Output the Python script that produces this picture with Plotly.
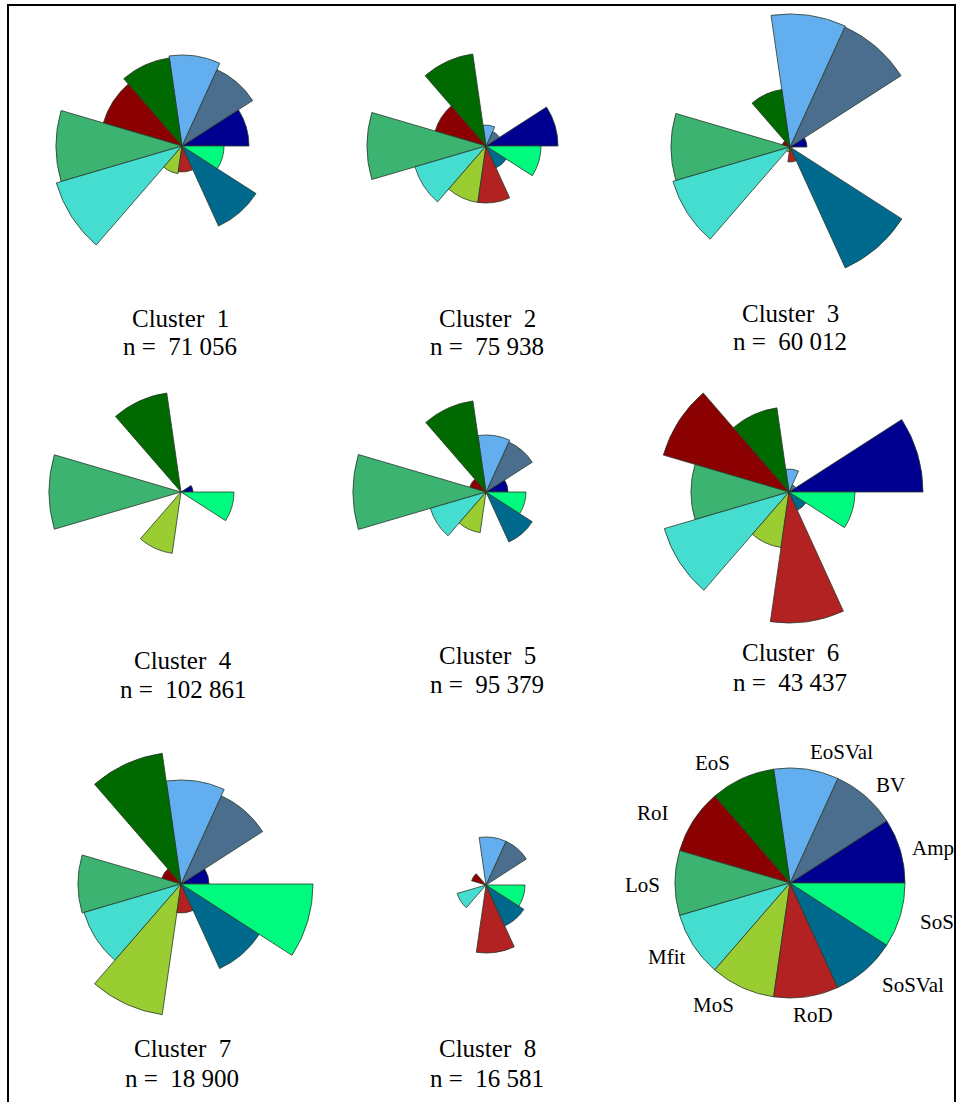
import math
import plotly.graph_objects as go

# ---------------- data ----------------
variables = ["Amp", "BV", "EoSVal", "EoS", "RoI", "LoS", "Mfit", "MoS", "RoD", "SoSVal", "SoS"]
colors = ["#000090", "#4B6E8E", "#63AEEE", "#006A00", "#8B0000", "#3CB371",
          "#44DDD0", "#9ACD32", "#B22222", "#006A8E", "#00FA80"]

cluster_names = ["Cluster  1", "Cluster  2", "Cluster  3", "Cluster  4",
                 "Cluster  5", "Cluster  6", "Cluster  7", "Cluster  8"]
cluster_sizes = ["71 056", "75 938", "60 012", "102 861", "95 379", "43 437", "18 900", "16 581"]

c1 = [67, 84, 91, 89, 82, 126, 131, 28, 26, 88, 42]
c2 = [72, 16, 21, 93, 53, 119, 74, 57, 57, 24, 55]
c3 = [17, 132, 133, 58, 8, 119, 122, 5, 15, 133, 2]
c4 = [12, 0, 0, 100, 0, 132, 0, 62, 0, 0, 53]
c5 = [22, 55, 57, 92, 17, 133, 58, 41, 2, 55, 40]
c6 = [134, 8, 23, 85, 131, 98, 130, 56, 131, 20, 66]
c7 = [28, 97, 104, 132, 20, 103, 101, 132, 29, 93, 132]
c8 = [0, 48, 48, 0, 15, 0, 30, 0, 68, 45, 39]
key_values = [115] * 11

# ---------------- layout helpers ----------------
W, H = 963, 1102
R_PX = 140          # pixel radius of each polar domain
R_MAX = 140         # radial axis max
sector = 360.0 / len(variables)
thetas = [sector * (i + 0.5) for i in range(len(variables))]

centers = [(182, 146), (486, 146), (790, 147),
           (181, 492), (486, 492), (789, 492),
           (181, 884), (486, 885), (790, 883)]
label_pos = [(180, 318, 347), (487, 318, 347), (790, 313, 342),
             (183, 660, 689), (487, 655, 684), (790, 652, 682),
             (182, 1048, 1078), (487, 1048, 1078)]

series = [c1, c2, c3, c4, c5, c6, c7, c8, key_values]

fig = go.Figure()
layout_polars = {}
for k, (vals, (cx, cy)) in enumerate(zip(series, centers)):
    name = "polar" if k == 0 else f"polar{k+1}"
    fig.add_trace(go.Barpolar(
        r=vals, theta=thetas, width=[sector] * len(vals),
        marker=dict(color=colors, line=dict(color="#2a3a2a", width=0.8)),
        subplot=name, showlegend=False, hoverinfo="skip",
    ))
    layout_polars[name] = dict(
        domain=dict(x=[(cx - R_PX) / W, (cx + R_PX) / W],
                    y=[1 - (cy + R_PX) / H, 1 - (cy - R_PX) / H]),
        bgcolor="rgba(0,0,0,0)",
        radialaxis=dict(range=[0, R_MAX], visible=False),
        angularaxis=dict(visible=False, direction="counterclockwise", rotation=0),
        barmode="overlay", bargap=0, hole=0,
    )

fig.update_layout(**layout_polars)

annotations = []
FONT = "Liberation Serif, Times New Roman, serif"
for name, n, (x, y1, y2) in zip(cluster_names, cluster_sizes, label_pos):
    annotations.append(dict(x=x / W, y=1 - y1 / H, xref="paper", yref="paper",
                            text=name, showarrow=False, xanchor="center", yanchor="middle",
                            font=dict(family=FONT, size=25, color="black")))
    annotations.append(dict(x=x / W, y=1 - y2 / H, xref="paper", yref="paper",
                            text="n =  " + n, showarrow=False, xanchor="center", yanchor="middle",
                            font=dict(family=FONT, size=25, color="black")))

# key labels around the reference pie
key_label_angle = [13.6, 44.3, 68.5, 123.0, 153.0, 180.9, 211.0, 238.0, 280.0, 320.3, 345.1]
key_label_r = [147, 140, 141, 143, 154, 148, 143.5, 144, 134, 160, 152]
kcx, kcy = centers[8]
for lab, ang, rr in zip(variables, key_label_angle, key_label_r):
    px = kcx + rr * math.cos(math.radians(ang))
    py = kcy - rr * math.sin(math.radians(ang))
    annotations.append(dict(x=px / W, y=1 - py / H, xref="paper", yref="paper",
                            text=lab, showarrow=False, xanchor="center", yanchor="middle",
                            font=dict(family=FONT, size=21, color="black")))

fig.update_layout(
    width=W, height=H,
    margin=dict(l=0, r=0, t=0, b=0),
    paper_bgcolor="white", plot_bgcolor="white",
    annotations=annotations,
    shapes=[dict(type="rect", xref="paper", yref="paper",
                 x0=8 / W, x1=955 / W, y0=1 - 1115 / H, y1=1 - 5 / H,
                 line=dict(color="black", width=2))],
)

fig.write_html("out.html", post_script="document.body.style.margin='0';",
               config={"displayModeBar": False})
